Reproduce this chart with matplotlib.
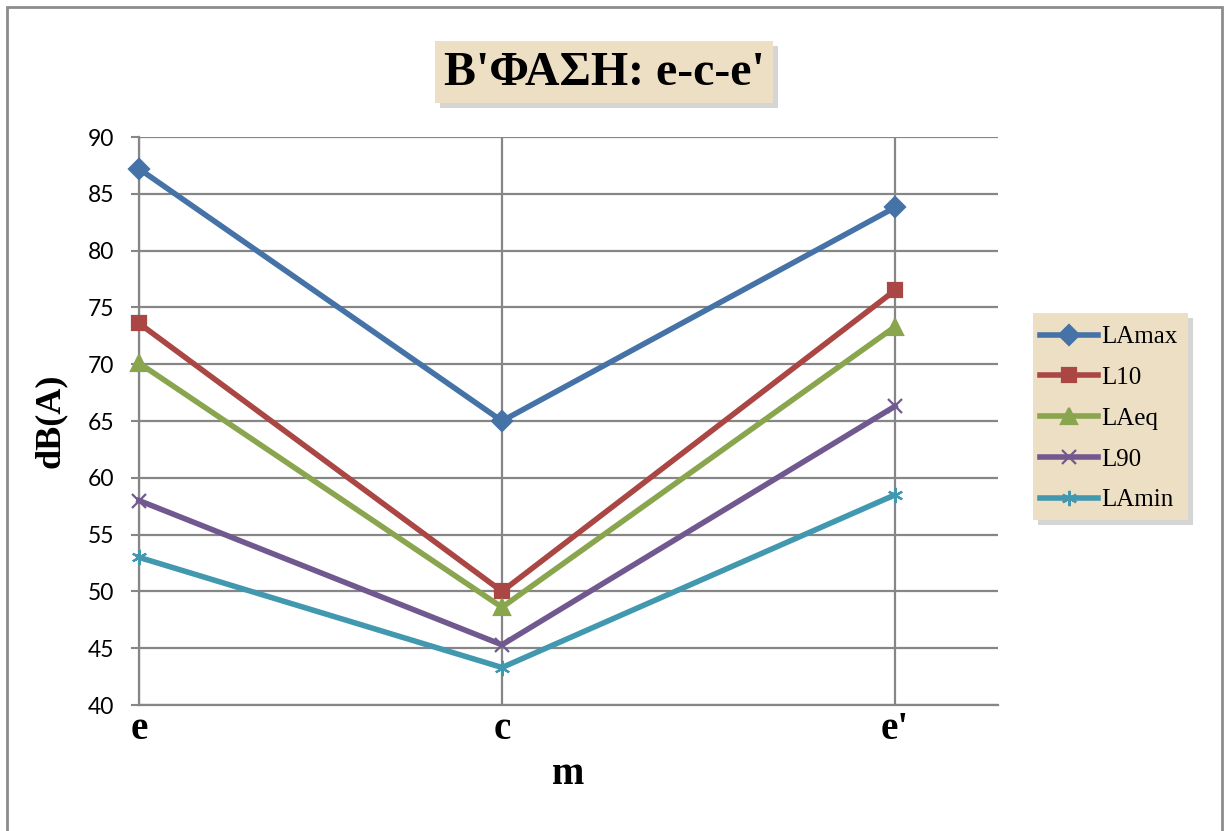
import matplotlib
matplotlib.use("Agg")
import matplotlib.pyplot as plt
from matplotlib.patches import Rectangle

# data
categories = ["e", "c", "e'"]
lamax = [87.2, 65.0, 83.8]
l10 = [73.6, 50.0, 76.5]
laeq = [70.1, 48.6, 73.3]
l90 = [58.0, 45.3, 66.3]
lamin = [53.0, 43.3, 58.5]

series = [
    ("LAmax", lamax, "#4572A7", "D", 10),
    ("L10", l10, "#AA4643", "s", 10.5),
    ("LAeq", laeq, "#89A54E", "^", 11.5),
    ("L90", l90, "#71588F", "x", 10),
    ("LAmin", lamin, "#4198AF", (6, 2, 0), 11),
]

# category positions along the x-axis (as drawn in the original)
xpos = [0.0, 363 / 859, 756 / 859]

W, H = 1225, 831
fig = plt.figure(figsize=(W / 100, H / 100), dpi=100)
fig.patch.set_facecolor("white")

# outer chart frame
fig.add_artist(Rectangle((7 / W, -0.05), (W - 10) / W, 1 - 7 / H + 0.05,
                         transform=fig.transFigure, fill=False,
                         edgecolor="#8c8c8c", linewidth=2))

ax = fig.add_axes([139 / W, 1 - 705 / H, (998 - 139) / W, (705 - 137) / H])

for name, vals, col, mk, ms in series:
    ax.plot(xpos, vals, color=col, linewidth=4.0, marker=mk, markersize=ms,
            markeredgewidth=1.6, markeredgecolor=col, label=name, clip_on=False,
            zorder=3)

ax.set_xlim(0, 1)
ax.set_ylim(40, 90)
ax.set_yticks(range(40, 91, 5))
ax.set_xticks(xpos)
ax.set_xticklabels(categories, fontsize=28, fontweight="bold", family="Liberation Serif")
for lab in ax.get_yticklabels():
    lab.set_family("Lato")
    lab.set_fontsize(16.5)
ax.tick_params(axis="y", length=6, width=1.5, color="#868686", pad=12)
ax.tick_params(axis="x", length=0, pad=4)

ax.grid(True, color="#868686", linewidth=1.6)
ax.set_axisbelow(True)
for s in ("top", "right"):
    ax.spines[s].set_visible(False)
for s in ("left", "bottom"):
    ax.spines[s].set_color("#868686")
    ax.spines[s].set_linewidth(1.6)

ax.set_ylabel("dB(A)", fontsize=26, fontweight="bold", family="Liberation Serif",
              va="center")
ax.yaxis.set_label_coords(-(139 - 50) / 859, 0.5)
ax.set_xlabel("m", fontsize=28, fontweight="bold", family="Liberation Serif",
              va="center")
ax.xaxis.set_label_coords(0.5, -(775 - 705) / 568)

parch = "#ECDFC3"
shadow = "#c4c4c4"

# title box with drop shadow
tx0, ty0, tw, th = 435, 41, 338, 62
fig.add_artist(Rectangle(((tx0 + 5) / W, 1 - (ty0 + th + 5) / H), tw / W, th / H,
                         transform=fig.transFigure, facecolor=shadow,
                         edgecolor="none", alpha=0.7))
fig.add_artist(Rectangle((tx0 / W, 1 - (ty0 + th) / H), tw / W, th / H,
                         transform=fig.transFigure, facecolor=parch,
                         edgecolor="none"))
fig.text((tx0 + tw / 2) / W, 1 - (ty0 + th / 2 + 1) / H, "Β'ΦΑΣΗ: e-c-e'",
         fontsize=34.5, fontweight="bold", family="Liberation Serif",
         ha="center", va="center")

# legend box with drop shadow
lx0, ly0, lw, lh = 1033, 313, 155, 207
fig.add_artist(Rectangle(((lx0 + 5) / W, 1 - (ly0 + lh + 5) / H), lw / W, lh / H,
                         transform=fig.transFigure, facecolor=shadow,
                         edgecolor="none", alpha=0.7))
fig.add_artist(Rectangle((lx0 / W, 1 - (ly0 + lh) / H), lw / W, lh / H,
                         transform=fig.transFigure, facecolor=parch,
                         edgecolor="none"))
leg = fig.legend(loc="upper left", bbox_to_anchor=((lx0 + 7) / W, 1 - (ly0 + 13) / H),
                 frameon=False, prop={"family": "Liberation Serif", "size": 18},
                 handlelength=2.3, handletextpad=0.15, labelspacing=0.73,
                 borderaxespad=0, borderpad=0)

fig.savefig("out.png", dpi=100)
